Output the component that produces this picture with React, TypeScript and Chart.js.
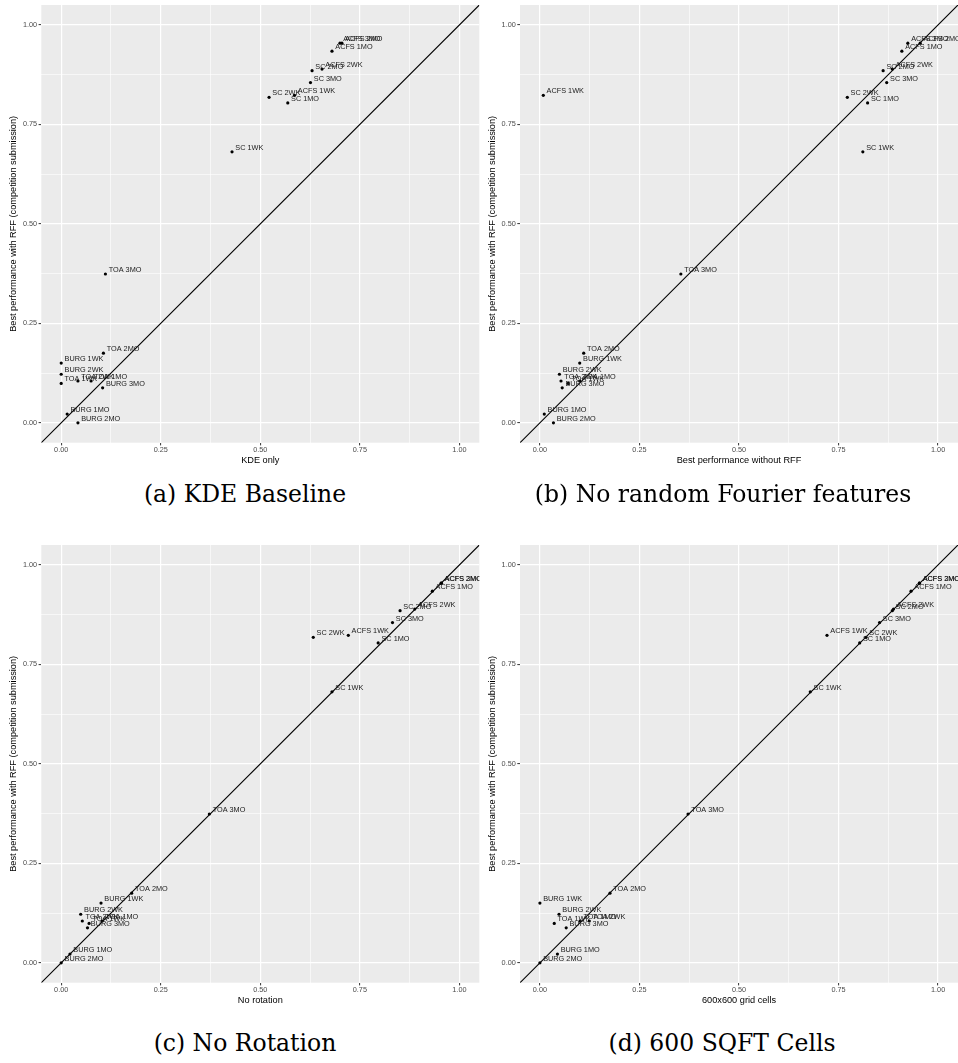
import React, { useEffect, useRef } from 'react';
import { Chart, registerables } from 'chart.js';

Chart.register(...registerables);

const LABELS = [
  'BURG 1WK', 'BURG 2WK', 'BURG 1MO', 'BURG 2MO', 'BURG 3MO',
  'TOA 1WK', 'TOA 2WK', 'TOA 1MO', 'TOA 2MO', 'TOA 3MO',
  'SC 1WK', 'SC 2WK', 'SC 1MO', 'SC 2MO', 'SC 3MO',
  'ACFS 1WK', 'ACFS 2WK', 'ACFS 1MO', 'ACFS 2MO', 'ACFS 3MO',
];

const Y_RFF = [
  0.150, 0.122, 0.022, 0.000, 0.088,
  0.099, 0.105, 0.105, 0.175, 0.374,
  0.681, 0.818, 0.804, 0.885, 0.855,
  0.823, 0.889, 0.934, 0.954, 0.954,
];

const X_KDE = [
  0.000, 0.000, 0.015, 0.042, 0.104,
  0.000, 0.042, 0.075, 0.106, 0.111,
  0.429, 0.522, 0.569, 0.630, 0.626,
  0.586, 0.655, 0.680, 0.705, 0.700,
];

const X_NO_RFF = [
  0.100, 0.049, 0.011, 0.034, 0.056,
  0.071, 0.053, 0.100, 0.110, 0.354,
  0.811, 0.772, 0.823, 0.862, 0.871,
  0.0085, 0.885, 0.909, 0.955, 0.924,
];

const X_NO_ROTATION = [
  0.100, 0.049, 0.022, 0.000, 0.066,
  0.070, 0.053, 0.103, 0.177, 0.372,
  0.680, 0.633, 0.796, 0.851, 0.832,
  0.721, 0.888, 0.932, 0.954, 0.955,
];

const X_GRID_600 = [
  0.000, 0.048, 0.044, 0.000, 0.066,
  0.036, 0.124, 0.101, 0.176, 0.372,
  0.679, 0.819, 0.803, 0.885, 0.853,
  0.721, 0.888, 0.932, 0.953, 0.953,
];

const GRID_TICKS = [0, 0.125, 0.25, 0.375, 0.5, 0.625, 0.75, 0.875, 1];
const AXIS_MIN = -0.05;
const AXIS_MAX = 1.05;
const DIAGONAL = [AXIS_MIN, AXIS_MAX];
const Y_TITLE = 'Best performance with RFF (competition submission)';

const X_TITLES = ['KDE only', 'Best performance without RFF', 'No rotation', '600x600 grid cells'];
const CAPTIONS = ['(a) KDE Baseline', '(b) No random Fourier features', '(c) No Rotation', '(d) 600 SQFT Cells'];
const X_SERIES = [X_KDE, X_NO_RFF, X_NO_ROTATION, X_GRID_600];

const SANS = '"Liberation Sans", Arial, sans-serif';

const isMajor = (v: number | undefined) =>
  v !== undefined && Math.abs(v * 4 - Math.round(v * 4)) < 1e-9;

const ggPlugin = {
  id: 'ggTheme',
  beforeDraw(chart: any) {
    const { ctx, chartArea: a } = chart;
    ctx.save();
    ctx.fillStyle = '#EBEBEB';
    ctx.fillRect(a.left, a.top, a.right - a.left, a.bottom - a.top);
    ctx.restore();
  },
  afterDatasetsDraw(chart: any) {
    const { ctx, chartArea: a } = chart;
    const meta = chart.getDatasetMeta(0);
    const names: string[] = chart.data.datasets[0].pointNames || [];
    ctx.save();
    ctx.beginPath();
    ctx.rect(a.left, a.top, a.right - a.left, a.bottom - a.top);
    ctx.clip();
    ctx.font = `7.3px ${SANS}`;
    ctx.fillStyle = '#1A1A1A';
    ctx.textAlign = 'left';
    ctx.textBaseline = 'alphabetic';
    meta.data.forEach((pt: any, i: number) => {
      ctx.fillText(names[i], pt.x + 3.3, pt.y - 2);
    });
    ctx.restore();
  },
};

const zeroPad = (s: any) => {
  s.paddingLeft = 0;
  s.paddingRight = 0;
  s.paddingTop = 0;
  s.paddingBottom = 0;
};

function Panel({ xs, xTitle, yWidth, rightPad, width, height }: any) {
  const ref = useRef<HTMLCanvasElement>(null);
  useEffect(() => {
    if (!ref.current) return;
    const gridCommon = {
      color: '#FFFFFF',
      lineWidth: (c: any) => (isMajor(c.tick?.value) ? 1.2 : 0.6),
      tickColor: (c: any) => (isMajor(c.tick?.value) ? '#333333' : 'rgba(0,0,0,0)'),
      tickLength: 2.7,
      tickWidth: 1,
      drawTicks: true,
    };
    const tickCommon = {
      callback: (v: any) => (isMajor(Number(v)) ? Number(v).toFixed(2) : ''),
      font: { family: SANS, size: 7.3 },
      color: '#4D4D4D',
      autoSkip: false,
      maxRotation: 0,
    };
    const setTicks = (s: any) => {
      s.ticks = GRID_TICKS.map((v) => ({ value: v }));
    };
    const chart = new Chart(ref.current, {
      type: 'scatter',
      data: {
        datasets: [
          {
            data: xs.map((x: number, i: number) => ({ x, y: Y_RFF[i] })),
            pointNames: LABELS,
            pointRadius: 1.6,
            pointBackgroundColor: '#000000',
            pointBorderWidth: 0,
            showLine: false,
          } as any,
          {
            data: DIAGONAL.map((v) => ({ x: v, y: v })),
            showLine: true,
            borderColor: '#000000',
            borderWidth: 1.1,
            pointRadius: 0,
          } as any,
        ],
      },
      options: {
        responsive: false,
        animation: false,
        events: [],
        layout: { autoPadding: false, padding: { top: 5, right: rightPad, left: 0, bottom: 0 } },
        plugins: { legend: { display: false }, tooltip: { enabled: false } },
        scales: {
          x: {
            type: 'linear',
            min: AXIS_MIN,
            max: AXIS_MAX,
            afterBuildTicks: setTicks,
            afterFit: (s: any) => {
              s.height = height - 442.7;
              zeroPad(s);
            },
            ticks: { ...tickCommon, padding: 0 },
            grid: gridCommon as any,
            border: { display: false },
            title: {
              display: true,
              text: xTitle,
              color: '#000000',
              font: { family: SANS, size: 9.2 },
              padding: { top: 0, bottom: 4.5 },
            },
          },
          y: {
            type: 'linear',
            min: AXIS_MIN,
            max: AXIS_MAX,
            afterBuildTicks: setTicks,
            afterFit: (s: any) => {
              s.width = yWidth;
              zeroPad(s);
            },
            ticks: { ...tickCommon, padding: 1.5 },
            grid: gridCommon as any,
            border: { display: false },
            title: {
              display: true,
              text: Y_TITLE,
              color: '#000000',
              font: { family: SANS, size: 9.2 },
              padding: { top: 7.8, bottom: 0 },
            },
          },
        },
      } as any,
      plugins: [ggPlugin],
    });
    return () => chart.destroy();
  }, [xs, xTitle, yWidth, rightPad, width, height]);
  return (
    <canvas
      ref={ref}
      width={width}
      height={height}
      style={{ width: `${width}px`, height: `${height}px`, display: 'block' }}
    />
  );
}

export default function App() {
  const panels = [
    { left: 0, top: 0, width: 480, yWidth: 41.3, rightPad: 0.7, capX: 245, capBase: 502.5 },
    { left: 479, top: 0, width: 479, yWidth: 41, rightPad: 0, capX: 723, capBase: 502.5 },
    { left: 0, top: 540, width: 480, yWidth: 41.3, rightPad: 0.7, capX: 245, capBase: 1052 },
    { left: 479, top: 540, width: 479, yWidth: 41, rightPad: 0, capX: 722, capBase: 1052 },
  ];
  const capSize = 23.5;
  return (
    <div
      style={{
        position: 'absolute',
        left: 0,
        top: 0,
        width: 958,
        height: 1063,
        background: '#FFFFFF',
        overflow: 'hidden',
      }}
    >
      {panels.map((p, i) => (
        <div key={i} style={{ position: 'absolute', left: p.left, top: p.top }}>
          <Panel
            xs={X_SERIES[i]}
            xTitle={X_TITLES[i]}
            yWidth={p.yWidth}
            rightPad={p.rightPad}
            width={p.width}
            height={470}
          />
        </div>
      ))}
      {panels.map((p, i) => (
        <div
          key={'c' + i}
          style={{
            position: 'absolute',
            left: p.capX - 250,
            width: 500,
            top: p.capBase - 0.846 * capSize,
            textAlign: 'center',
            fontFamily: '"DejaVu Serif", serif',
            fontSize: capSize,
            lineHeight: `${capSize}px`,
            color: '#000000',
            whiteSpace: 'nowrap',
          }}
        >
          {CAPTIONS[i]}
        </div>
      ))}
    </div>
  );
}
